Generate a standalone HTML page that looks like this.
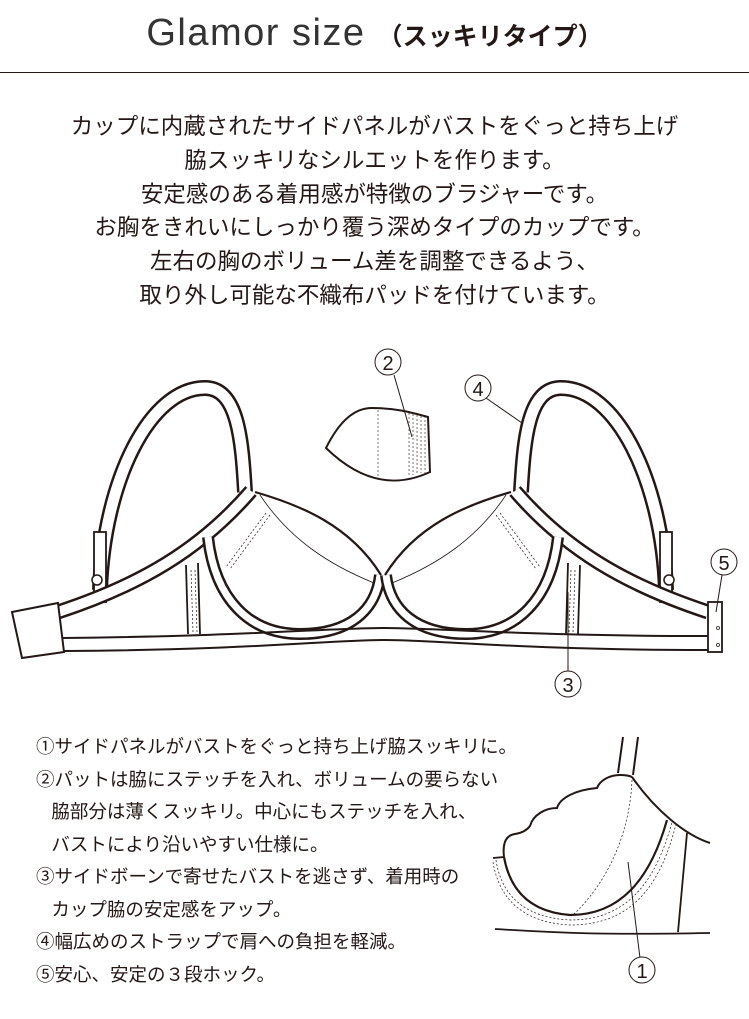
<!DOCTYPE html>
<html><head><meta charset="utf-8"><style>
body{margin:0;width:749px;height:1019px;background:#fff;overflow:hidden;font-family:"Liberation Sans","Noto Sans CJK JP",sans-serif;color:#231815;position:relative}
.t{position:absolute;left:0;width:749px;text-align:center;top:12px;font-size:38px;font-weight:300;letter-spacing:1.5px;color:#333}
.t span{font-size:25px;font-weight:bold;color:#231815;letter-spacing:0}
.hr{position:absolute;left:0;width:749px;top:72px;height:1px;background:#231815}
.p{position:absolute;left:0;width:749px;top:110px;text-align:center;font-size:22.5px;line-height:33.8px}
.l{position:absolute;left:36px;top:731px;font-size:18.5px;line-height:32.5px}
svg{position:absolute;left:0;top:0}
</style></head><body>
<div class="t">Glamor size <span>（スッキリタイプ）</span></div>
<div class="hr"></div>
<div class="p">カップに内蔵されたサイドパネルがバストをぐっと持ち上げ<br>脇スッキリなシルエットを作ります。<br>安定感のある着用感が特徴のブラジャーです。<br>お胸をきれいにしっかり覆う深めタイプのカップです。<br>左右の胸のボリューム差を調整できるよう、<br>取り外し可能な不織布パッドを付けています。</div>
<div class="l">①サイドパネルがバストをぐっと持ち上げ脇スッキリに。<br>②パットは脇にステッチを入れ、ボリュームの要らない<br>&nbsp;&nbsp;&nbsp;脇部分は薄くスッキリ。中心にもステッチを入れ、<br>&nbsp;&nbsp;&nbsp;バストにより沿いやすい仕様に。<br>③サイドボーンで寄せたバストを逃さず、着用時の<br>&nbsp;&nbsp;&nbsp;カップ脇の安定感をアップ。<br>④幅広めのストラップで肩への負担を軽減。<br>⑤安心、安定の３段ホック。</div>
<svg width="749" height="1019" fill="none" stroke="#231815">
<defs>
<g id="half">
<path d="M100,590 C104,480 150,388 205,388 C238,388 242,440 245,492" stroke-width="16"/>
<path d="M100,590 C104,480 150,388 205,388 C238,388 242,440 245,492" stroke="#fff" stroke-width="11"/>
<rect x="94" y="532" width="12" height="70" fill="#fff" stroke-width="1.8"/>
<circle cx="97" cy="580" r="5" fill="#fff" stroke-width="1.5"/>
<path d="M58,612 C140,585 200,550 251,491" stroke-width="15"/>
<path d="M58,612 C140,585 200,550 251,491" stroke="#fff" stroke-width="10"/>
<path d="M208,537 C215,600 250,634 300,634 C350,634 376,610 380,575" stroke-width="12"/>
<path d="M208,537 C215,600 250,634 300,634 C350,634 376,610 380,575" stroke="#fff" stroke-width="7"/>
<path d="M255,492 C300,505 350,525 381,575" stroke-width="2.2"/>
<path d="M260,495 C290,540 330,565 374,583" stroke-width="0.8"/>
<path d="M266,513 L226,567 M270,515 L230,569" stroke-width="0.7" stroke-dasharray="2,2"/>
<path d="M186,565 L188,634 M198,563 L200,634" stroke-width="1.8"/>
<path d="M191,570 L193,632 M195,570 L197,632" stroke-width="0.7" stroke-dasharray="2,2"/>
</g>
</defs>
<use href="#half"/>
<use href="#half" transform="translate(766,0) scale(-1,1)"/>
<path d="M12,612 L58,603 L64,652 L22,658 Z" fill="#fff" stroke-width="2"/>
<path d="M62,638 C250,636 330,628 384,628 C440,628 520,636 708,636" stroke-width="2"/>
<path d="M64,651 C250,650 330,640 384,640 C440,640 520,650 708,650" stroke-width="2"/>
<rect x="708" y="602" width="14" height="50" fill="#fff" stroke-width="1.8"/>
<circle cx="718" cy="628" r="1.5" stroke-width="0.8"/><circle cx="718" cy="645" r="1.5" stroke-width="0.8"/>
<path d="M326,448 C340,420 355,408 372,408 C395,408 410,412 428,417 L430,472 C400,486 365,486 326,448 Z" fill="#fff" stroke-width="2"/>
<path d="M378,410 L378,482 M409,413 L409,476 M413,414 L413,475 M417,415 L417,474 M421,416 L421,473 M425,416 L425,473" stroke-width="0.6" stroke-dasharray="2,2"/>
<path d="M623,737 L618,773 M638,737 L633,775" stroke-width="2"/>
<path d="M504,857 C502,840 508,835 515,834 C522,833 527,830 530,826 C533,815 545,808 557,808 C560,798 575,790 597,788 C600,780 610,775 620,775 C627,775 630,776 632,777" stroke-width="2"/>
<path d="M504,857 C510,890 530,912 570,915 C620,915 650,880 667,820" stroke-width="2.2"/>
<path d="M496,860 C502,900 530,918 570,920 C625,920 655,885 672,822 M493,862 C500,905 530,923 570,925 C630,925 660,888 676,824" stroke-width="0.7" stroke-dasharray="2,2"/>
<path d="M632,777 C655,810 685,835 710,843" stroke-width="2"/>
<path d="M687,833 L678,932" stroke-width="1.8"/>
<path d="M495,929 C560,933 600,935 710,933" stroke-width="1.8"/>
<path d="M493,858 L504,857" stroke-width="1.8"/>
<path d="M632,780 C630,830 610,880 573,915" stroke-width="0.7" stroke-dasharray="2,2"/>
<g stroke-width="1">
<line x1="394" y1="375" x2="412" y2="437"/>
<line x1="486" y1="398" x2="522" y2="423"/>
<line x1="722" y1="575" x2="716" y2="612"/>
<line x1="568" y1="671" x2="568" y2="592"/>
<line x1="628" y1="862" x2="640" y2="958"/>
<circle cx="388" cy="362" r="13" fill="#fff"/>
<circle cx="478" cy="388" r="13" fill="#fff"/>
<circle cx="724" cy="562" r="13" fill="#fff"/>
<circle cx="568" cy="684" r="13" fill="#fff"/>
<circle cx="642" cy="970" r="13" fill="#fff"/>
</g>
<g font-family="Liberation Sans,sans-serif" font-size="20" fill="#231815" stroke="none" text-anchor="middle">
<text x="388" y="370">2</text><text x="478" y="396">4</text><text x="724" y="570">5</text><text x="568" y="692">3</text><text x="642" y="978">1</text>
</g>
</svg>
</body></html>
